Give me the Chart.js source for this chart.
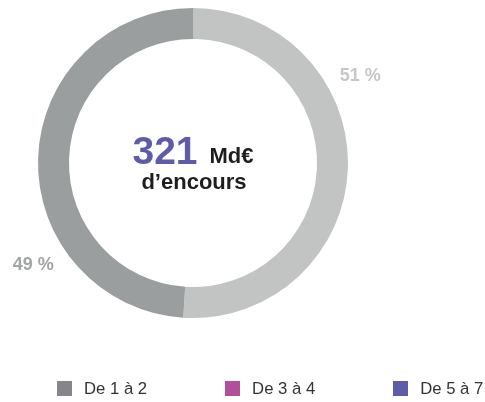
<!DOCTYPE html>
<html>
<head>
<meta charset="utf-8">
<script src="https://cdn.jsdelivr.net/npm/chart.js@4/dist/chart.umd.min.js"></script>
<style>
    body { margin: 0; background: #fff; }
    .wrap { position: relative; width: 485px; height: 402px; }
    #legend {
        position: absolute; left: 57px; top: 381px;
        display: flex; gap: 78px;
        font-family: "Liberation Sans", Arial, sans-serif;
        font-size: 16.7px; color: #333;
    }
    #legend .item { display: flex; align-items: center; height: 15px; }
    #legend .box { width: 15px; height: 15px; margin-right: 12px; }
</style>
</head>
<body>
<div class="wrap">
    <canvas id="myChart" width="485" height="402"></canvas>
    <div id="legend"></div>
</div>
<script>
// Data
const segments = ["51 %", "49 %"];
const shares = [51, 49];
const segmentColors = ["#c2c4c4", "#9b9e9f"];
const labelColors = ["#c6c7c7", "#a2a4a5"];

const legendLabels = ["De 1 à 2", "De 3 à 4", "De 5 à 7"];
const legendColors = ["#858689", "#b04f9c", "#5e5ba8"];

const totalValue = "321";
const totalUnit = "Md€";
const totalCaption = "d’encours";

// Legend (html)
const legendEl = document.getElementById("legend");
legendLabels.forEach((label, i) => {
    const item = document.createElement("div");
    item.className = "item";
    item.innerHTML = '<span class="box" style="background:' + legendColors[i] + '"></span>' + label;
    legendEl.appendChild(item);
});

const FONT = '"Liberation Sans", Arial, sans-serif';

// Percent labels outside the ring + center text
const ringText = {
    id: "ringText",
    afterDatasetsDraw(chart) {
        const ctx = chart.ctx;
        const arcs = chart.getDatasetMeta(0).data;
        const fracs = [0.339, 0.307];
        ctx.save();
        ctx.font = "bold 18px " + FONT;
        ctx.textAlign = "center";
        ctx.textBaseline = "middle";
        arcs.forEach((arc, i) => {
            const a = arc.startAngle + (arc.endAngle - arc.startAngle) * fracs[i];
            const r = arc.outerRadius + 34;
            ctx.fillStyle = labelColors[i];
            ctx.fillText(segments[i], arc.x + Math.cos(a) * r, arc.y + Math.sin(a) * r + 1);
        });

        // center
        const cx = arcs[0].x, cy = arcs[0].y;
        ctx.textBaseline = "alphabetic";
        ctx.textAlign = "left";
        ctx.font = "bold 39px " + FONT;
        const w1 = ctx.measureText(totalValue).width;
        ctx.font = "bold 22px " + FONT;
        const w2 = ctx.measureText(totalUnit).width;
        const gap = 12;
        let x = cx - (w1 + gap + w2) / 2;
        ctx.font = "bold 39px " + FONT;
        ctx.fillStyle = "#5e5ba8";
        ctx.fillText(totalValue, x, cy + 1);
        ctx.font = "bold 22px " + FONT;
        ctx.fillStyle = "#1e1e1e";
        ctx.fillText(totalUnit, x + w1 + gap, cy);
        ctx.textAlign = "center";
        ctx.font = "bold 22px " + FONT;
        ctx.fillText(totalCaption, cx + 1, cy + 26);
        ctx.restore();
    },
};

const ctx = document.getElementById("myChart").getContext("2d");
let myChart = new Chart(ctx, {
    type: "doughnut",
    data: {
        labels: segments,
        datasets: [
            {
                data: shares,
                backgroundColor: segmentColors,
                borderWidth: 0,
                hoverOffset: 0,
            },
        ],
    },
    options: {
        responsive: false,
        animation: false,
        devicePixelRatio: 1,
        cutout: "80%",
        layout: { padding: { left: 38, top: 8, right: 137, bottom: 84 } },
        plugins: {
            legend: { display: false },
            tooltip: { enabled: false },
        },
    },
    plugins: [ringText],
});
</script>
</body>
</html>
